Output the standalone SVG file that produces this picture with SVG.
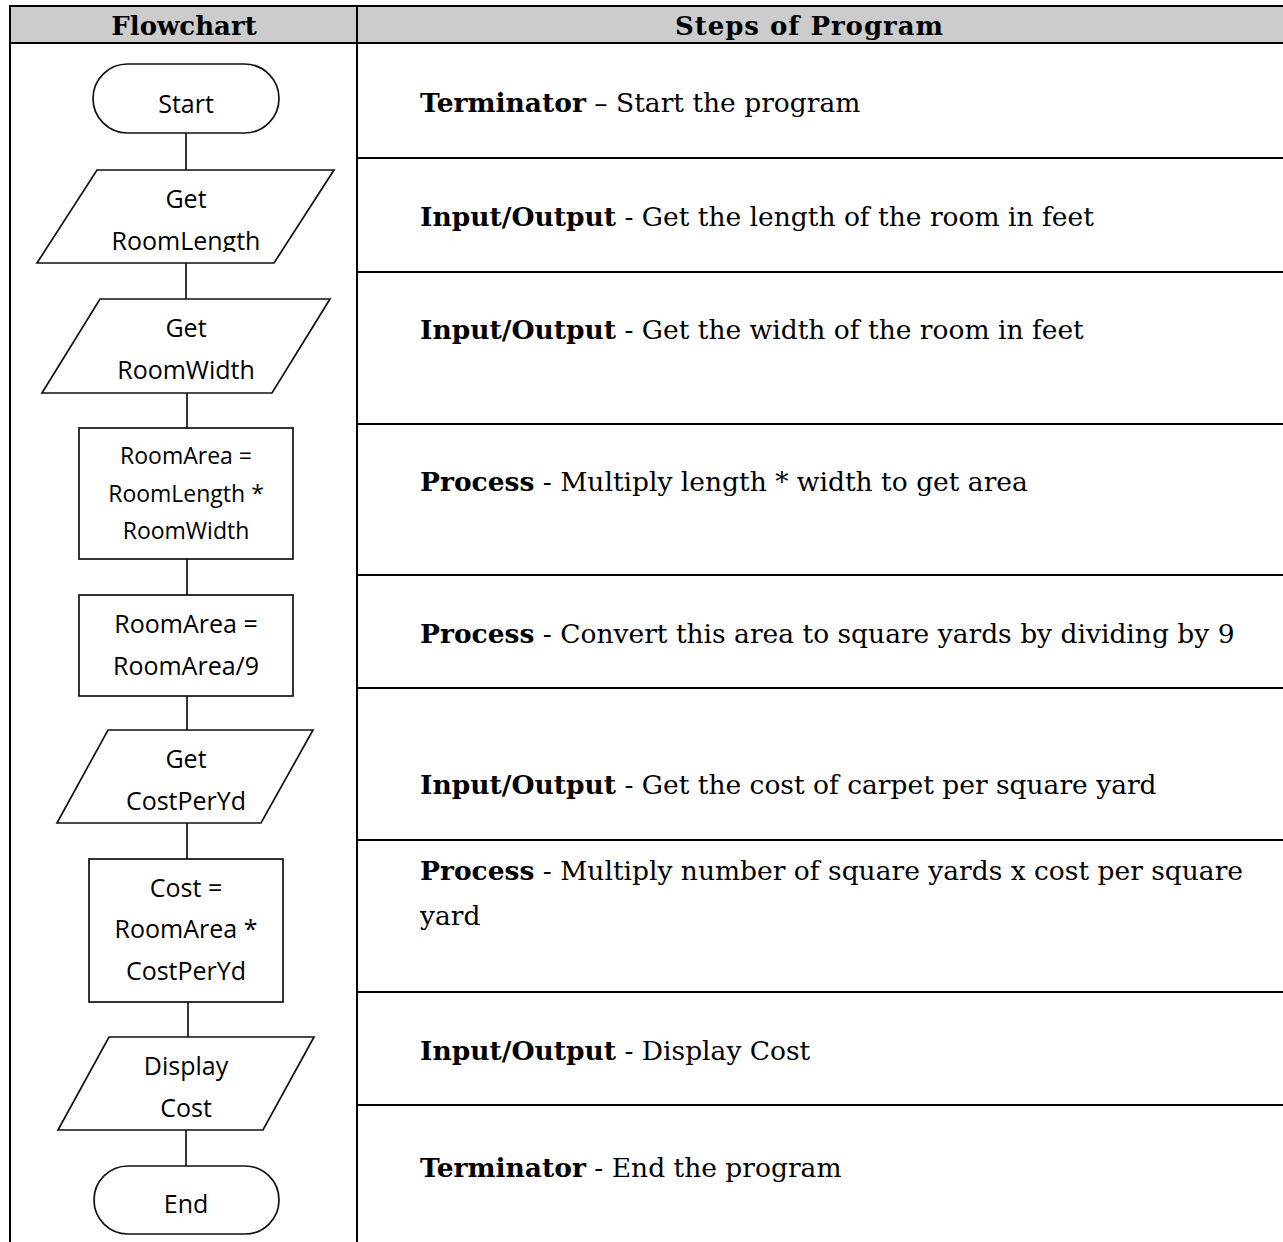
<svg xmlns="http://www.w3.org/2000/svg" width="1283" height="1242" viewBox="0 0 1283 1242">
  <defs>
    <style>
      .grid { stroke: #000; stroke-width: 2; fill: none; }
      .shape { fill: #fff; stroke: #111; stroke-width: 1.7; }
      .link { stroke: #111; stroke-width: 1.7; fill: none; }
      .lbl { font-family: "Open Sans", "Noto Sans", sans-serif; font-size: 25px; fill: #000; text-anchor: middle; }
      .lbl.sm { font-size: 23px; }
      .head { font-family: "DejaVu Serif", "Liberation Serif", serif; font-size: 26px; font-weight: bold; fill: #000; text-anchor: middle; }
      .step { font-family: "DejaVu Serif", "Liberation Serif", serif; font-size: 26.5px; fill: #000; }
      .step tspan.b { font-weight: bold; }
    </style>
    <clipPath id="clip-len">
      <rect x="40" y="170" width="300" height="82"/>
    </clipPath>
  </defs>

  <rect x="0" y="0" width="1283" height="1242" fill="#fff"/>

  <!-- table -->
  <g id="table">
    <rect x="10" y="6" width="1280" height="37" fill="#cccccc"/>
    <line class="grid" x1="10" y1="6" x2="1283" y2="6"/>
    <line class="grid" x1="10" y1="43" x2="1283" y2="43"/>
    <line class="grid" x1="10" y1="5" x2="10" y2="1242"/>
    <line class="grid" x1="357" y1="5" x2="357" y2="1242"/>
    <line class="grid" x1="357" y1="158" x2="1283" y2="158"/>
    <line class="grid" x1="357" y1="272" x2="1283" y2="272"/>
    <line class="grid" x1="357" y1="424" x2="1283" y2="424"/>
    <line class="grid" x1="357" y1="575" x2="1283" y2="575"/>
    <line class="grid" x1="357" y1="688" x2="1283" y2="688"/>
    <line class="grid" x1="357" y1="840" x2="1283" y2="840"/>
    <line class="grid" x1="357" y1="992" x2="1283" y2="992"/>
    <line class="grid" x1="357" y1="1105" x2="1283" y2="1105"/>
    <text class="head" x="184" y="35">Flowchart</text>
    <text class="head" x="809" y="35" textLength="268" lengthAdjust="spacing">Steps of Program</text>
  </g>

  <!-- connectors -->
  <g id="connectors">
    <line class="link" x1="186" y1="133" x2="186" y2="170"/>
    <line class="link" x1="186" y1="263" x2="186" y2="299"/>
    <line class="link" x1="187" y1="393" x2="187" y2="428"/>
    <line class="link" x1="187" y1="559" x2="187" y2="595"/>
    <line class="link" x1="187" y1="696" x2="187" y2="730"/>
    <line class="link" x1="187" y1="823" x2="187" y2="859"/>
    <line class="link" x1="188" y1="1002" x2="188" y2="1037"/>
    <line class="link" x1="186" y1="1130" x2="186" y2="1166"/>
  </g>

  <!-- flowchart nodes -->
  <g id="start">
    <rect class="shape" x="93" y="64" width="186" height="69" rx="34.5"/>
    <text class="lbl" x="186" y="113">Start</text>
  </g>
  <g id="get-length">
    <polygon class="shape" points="97,170 334,170 274,263 37,263"/>
    <text class="lbl" x="186" y="208">Get</text>
    <text class="lbl" x="186" y="250" clip-path="url(#clip-len)">RoomLength</text>
  </g>
  <g id="get-width">
    <polygon class="shape" points="100,299 330,299 272,393 42,393"/>
    <text class="lbl" x="186" y="337">Get</text>
    <text class="lbl" x="186" y="379">RoomWidth</text>
  </g>
  <g id="calc-area">
    <rect class="shape" x="79" y="428" width="214" height="131"/>
    <text class="lbl sm" x="186" y="464">RoomArea =</text>
    <text class="lbl sm" x="186" y="502">RoomLength *</text>
    <text class="lbl sm" x="186" y="539">RoomWidth</text>
  </g>
  <g id="calc-yards">
    <rect class="shape" x="79" y="595" width="214" height="101"/>
    <text class="lbl" x="186" y="633">RoomArea =</text>
    <text class="lbl" x="186" y="675">RoomArea/9</text>
  </g>
  <g id="get-cost">
    <polygon class="shape" points="108,730 313,730 261,823 57,823"/>
    <text class="lbl" x="186" y="768">Get</text>
    <text class="lbl" x="186" y="810">CostPerYd</text>
  </g>
  <g id="calc-cost">
    <rect class="shape" x="89" y="859" width="194" height="143"/>
    <text class="lbl" x="186" y="897">Cost =</text>
    <text class="lbl" x="186" y="938">RoomArea *</text>
    <text class="lbl" x="186" y="980">CostPerYd</text>
  </g>
  <g id="display-cost">
    <polygon class="shape" points="109,1037 314,1037 263,1130 58,1130"/>
    <text class="lbl" x="186" y="1075">Display</text>
    <text class="lbl" x="186" y="1117">Cost</text>
  </g>
  <g id="end">
    <rect class="shape" x="94" y="1166" width="185" height="68" rx="34"/>
    <text class="lbl" x="186" y="1213">End</text>
  </g>

  <!-- step descriptions -->
  <g id="steps">
    <text class="step" x="420" y="112"><tspan class="b">Terminator</tspan> – Start the program</text>
    <text class="step" x="420" y="226"><tspan class="b">Input/Output</tspan> - Get the length of the room in feet</text>
    <text class="step" x="420" y="339"><tspan class="b">Input/Output</tspan> - Get the width of the room in feet</text>
    <text class="step" x="420" y="491"><tspan class="b">Process</tspan> - Multiply length * width to get area</text>
    <text class="step" x="420" y="643"><tspan class="b">Process</tspan> - Convert this area to square yards by dividing by 9</text>
    <text class="step" x="420" y="794"><tspan class="b">Input/Output</tspan> - Get the cost of carpet per square yard</text>
    <text class="step" x="420" y="880"><tspan class="b">Process</tspan> - Multiply number of square yards x cost per square</text>
    <text class="step" x="420" y="925">yard</text>
    <text class="step" x="420" y="1060"><tspan class="b">Input/Output</tspan> - Display Cost</text>
    <text class="step" x="420" y="1177"><tspan class="b">Terminator</tspan> - End the program</text>
  </g>
</svg>
